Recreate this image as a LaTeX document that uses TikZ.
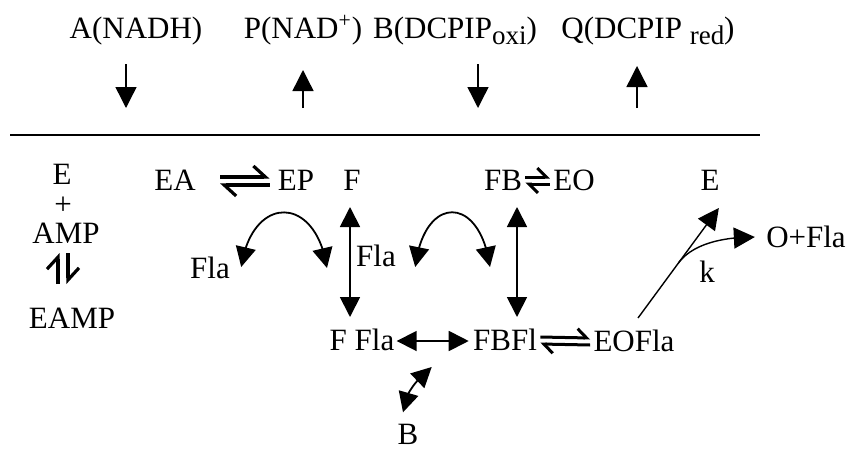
\documentclass[tikz,border=0pt]{standalone}
\usepackage{fontspec}
\setmainfont{Liberation Serif}
\usetikzlibrary{arrows.meta}
\usetikzlibrary{bending}
\usetikzlibrary{calc}
\usetikzlibrary{positioning}
\tikzset{
  every node/.style={inner sep=0, font=\fontsize{15.5pt}{18pt}\selectfont},
  chem/.style={anchor=base},
  arrow/.style={-{Triangle[length=10.5pt,width=10.5pt]}, line width=0.7pt},
  biarrow/.style={{Triangle[length=10pt,width=10pt]}-{Triangle[length=10pt,width=10pt]}, line width=0.9pt},
  harp/.style={-{Straight Barb[left,length=6pt,width=11pt,line width=1.6pt]}, line width=1.6pt},
  shortharp/.style={-{Straight Barb[left,length=4.5pt,width=9pt,line width=1.5pt]}, line width=1.5pt}
}
\newcommand{\lowtxt}[1]{\raisebox{-3pt}{\fontsize{13.5pt}{13.5pt}\selectfont #1}}

\begin{document}
\begin{tikzpicture}[x=0.5pt, y=-0.5pt]
  \useasboundingbox (0,0) rectangle (851,450);

  % substrates and products
  \node (nadh)   [chem] at (136,38) {A(NADH)};
  \node (nad)    [chem] at (303,38) {P(NAD\textsuperscript{+})};
  \node (dcpox)  [chem] at (455,38) {B(DCPIP\lowtxt{oxi})};
  \node (dcpred) [chem] at (648,38) {Q(DCPIP \lowtxt{red})};

  \draw [arrow] ($(nadh.base)+(-10,26)$) -- ++(0,44);
  \draw [arrow] ($(nad.base)+(0,70)$) -- ++(0,-38);
  \draw [arrow] ($(dcpox.base)+(23,26)$) -- ++(0,44);
  \draw [arrow] ($(dcpred.base)+(-11,70)$) -- ++(0,-42);

  \draw [line width=1pt] (10,135) -- (760,135);

  % E + AMP
  \node (E1)   [chem] at (62,184) {E};
  \node (plus)        at (63,206) {+};
  \node (AMP)  [chem] at (66,243) {AMP};
  \node (EAMP) [chem] at (72,328) {EAMP};
  \draw [harp] ($(AMP.base)+(-8,41)$) -- ($(AMP.base)+(-8,10)$);
  \draw [harp] ($(AMP.base)+(2,10)$) -- ($(AMP.base)+(2,41)$);

  % ping-pong cycle
  \node (EA)    [chem] at (175,190) {EA};
  \node (EP)    [chem] at (296,190) {EP};
  \node (F)     [chem] at (352,190) {F};
  \node (FB)    [chem] at (503,190) {FB};
  \node (EO)    [chem] at (574,190) {EO};
  \node (E2)    [chem] at (710,190) {E};
  \node (Fla1)  [chem] at (210,278) {Fla};
  \node (Fla2)  [chem] at (376,266) {Fla};
  \node (FFla)  [chem] at (362,350) {F Fla};
  \node (FBFl)  [chem] at (505,350) {FBFl};
  \node (EOFla) [chem] at (634,351) {EOFla};
  \node (B)     [chem] at (408,444) {B};
  \node (OFla)  [chem] at (806,247) {O+Fla};
  \node (k)     [chem] at (707,282) {k};

  \draw [harp] ($(EA.base east)+(24,-13)$) -- ($(EP.base west)+(-8,-13)$);
  \draw [harp] ($(EP.base west)+(-8,-5)$) -- ($(EA.base east)+(24,-5)$);
  \draw [shortharp] ($(FB.base east)+(3,-13)$) -- ($(EO.base west)+(-3,-13)$);
  \draw [shortharp] ($(EO.base west)+(-3,-6)$) -- ($(FB.base east)+(3,-6)$);
  \draw [shortharp] ($(FBFl.base east)+(3,-13)$) -- ($(EOFla.base west)+(-3,-13)$);
  \draw [shortharp] ($(EOFla.base west)+(-3,-6)$) -- ($(FBFl.base east)+(3,-6)$);

  \draw [biarrow] ($(F.base)+(-2,17)$) -- ($(F.base)+(-2,127)$);
  \draw [biarrow] ($(FB.base)+(14,17)$) -- ($(FB.base)+(14,127)$);
  \draw [biarrow] ($(FFla.base east)+(2,-9)$) -- ($(FBFl.base west)+(-4,-9)$);

  \coordinate (arcA1) at ($(Fla1.base east)+(11,-11)$);
  \coordinate (arcA2) at (327,268);
  \coordinate (arcB1) at ($(Fla2.base east)+(19,1)$);
  \coordinate (arcB2) at (490,267);
  \draw [biarrow] (arcA1) .. controls (252,194) and (316,194) .. (arcA2);
  \draw [biarrow] (arcB1) .. controls (424,194) and (480,194) .. (arcB2);

  \coordinate (bTop) at ($(FFla.base east)+(37,17)$);
  \coordinate (bBot) at ($(B.north)+(-5,-11)$);
  \draw [biarrow] (bBot) .. controls (403,395) and (418,378) .. (bTop);

  \coordinate (eoStart) at ($(EOFla.base)+(4,-33)$);
  \coordinate (eTip)    at ($(E2.base east)+(-1,18)$);
  \coordinate (oTip)    at ($(OFla.base west)+(-11,-10)$);
  \draw [arrow] (eoStart) -- coordinate[pos=0.5] (split) (eTip);
  \draw [arrow] (split) .. controls ($(split)+(11,-15)$) and ($(split)+(35,-26)$) .. (oTip);
\end{tikzpicture}
\end{document}
